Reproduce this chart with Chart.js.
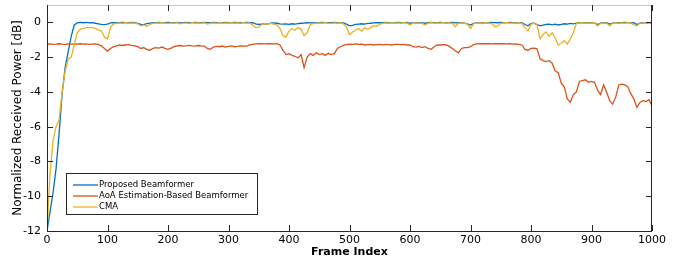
<!DOCTYPE html>
<html>
<head>
<meta charset="utf-8">
<script src="https://cdn.jsdelivr.net/npm/chart.js@4/dist/chart.umd.min.js"></script>
<style>
  html, body { margin: 0; padding: 0; background: #fff; }
</style>
</head>
<body>
<canvas id="canvas" width="682" height="261"></canvas>
<script>
// frame index every 5 frames, 0..1000
var frames = [];
for (var f = 0; f <= 1000; f += 5) frames.push(f);

var xTicks = [0, 100, 200, 300, 400, 500, 600, 700, 800, 900, 1000];
var yTicks = [-12, -10, -8, -6, -4, -2, 0];

var proposed = [
  -12, -10.9, -9.8, -8.4, -6.4, -4.1, -2.6, -1.7, -0.8, -0.15,
  -0.03, 0, -0.02, 0, -0.03, -0.02, -0.05, -0.08, -0.12, -0.13,
  -0.1, -0.03, -0.02, -0.01, -0.02, 0, -0.01, -0.02, 0, -0.01,
  -0.05, -0.12, -0.13, -0.07, -0.04, -0.02, -0.01, 0, -0.02, -0.01,
  0, -0.02, -0.01, 0, -0.03, -0.01, 0, -0.02, -0.01, 0,
  -0.02, -0.01, 0, -0.01, -0.02, 0, -0.01, -0.03, -0.01, 0,
  -0.01, -0.02, 0, -0.01, -0.02, -0.01, 0, -0.02, -0.01, -0.08,
  -0.12, -0.1, -0.08, -0.1, -0.04, -0.03, -0.05, -0.08, -0.1, -0.09,
  -0.11, -0.08, -0.1, -0.07, -0.05, -0.04, -0.02, -0.03, -0.02, -0.01,
  -0.02, 0, -0.01, -0.02, -0.01, 0, -0.02, -0.01, -0.03, -0.1,
  -0.2, -0.17, -0.12, -0.1, -0.08, -0.1, -0.06, -0.05, -0.03, -0.02,
  -0.01, -0.02, 0, -0.03, -0.02, -0.01, 0, -0.02, -0.01, 0,
  -0.05, -0.03, -0.02, -0.01, -0.03, -0.05, -0.02, 0, -0.01, -0.02,
  0, -0.01, -0.02, -0.01, 0, -0.03, -0.02, -0.01, -0.04, -0.08,
  -0.15, -0.06, -0.03, -0.02, -0.01, -0.03, -0.02, 0, -0.01, -0.02,
  0, -0.02, -0.01, 0, -0.02, -0.01, -0.03, -0.01, -0.12, -0.2,
  -0.06, -0.04, -0.12, -0.2, -0.16, -0.12, -0.1, -0.14, -0.1, -0.15,
  -0.12, -0.08, -0.1, -0.06, -0.08, -0.04, -0.02, -0.03, -0.01, -0.02,
  -0.01, -0.03, -0.13, -0.04, -0.02, -0.01, -0.1, -0.04, -0.02, -0.01,
  -0.02, 0, -0.01, -0.03, -0.02, -0.12, -0.04, -0.02, -0.01, -0.02,
  -0.02
];

var aoaBased = [
  -1.25, -1.24, -1.26, -1.25, -1.23, -1.25, -1.26, -1.24, -1.25, -1.24,
  -1.25, -1.23, -1.25, -1.24, -1.26, -1.25, -1.24, -1.28, -1.35, -1.5,
  -1.65, -1.5, -1.4, -1.35, -1.3, -1.33, -1.3, -1.28, -1.32, -1.35,
  -1.4, -1.5, -1.45, -1.55, -1.6, -1.5, -1.45, -1.48, -1.42, -1.5,
  -1.55, -1.48, -1.4, -1.35, -1.33, -1.36, -1.35, -1.32, -1.35, -1.36,
  -1.33, -1.35, -1.37, -1.5, -1.55, -1.42, -1.38, -1.4, -1.36, -1.42,
  -1.38, -1.35, -1.4, -1.38, -1.35, -1.37, -1.36, -1.3, -1.26, -1.24,
  -1.23, -1.22, -1.24, -1.23, -1.22, -1.24, -1.23, -1.3, -1.6, -1.85,
  -1.8, -1.9, -1.95, -2.05, -1.85, -2.6, -2.0, -1.8, -1.9, -1.75,
  -1.85, -1.8, -1.9, -1.78, -1.85, -1.8, -1.5, -1.4, -1.32, -1.28,
  -1.25, -1.26, -1.24, -1.27, -1.25, -1.3, -1.28, -1.26, -1.3, -1.28,
  -1.27, -1.29, -1.26, -1.28, -1.3, -1.27, -1.26, -1.28, -1.27, -1.3,
  -1.3, -1.4, -1.42, -1.38, -1.45, -1.4, -1.5, -1.55, -1.4, -1.3,
  -1.3, -1.28, -1.3, -1.38, -1.5, -1.65, -1.75, -1.5, -1.45, -1.45,
  -1.4, -1.28, -1.24, -1.23, -1.22, -1.23, -1.22, -1.24, -1.23, -1.22,
  -1.23, -1.22, -1.24, -1.23, -1.25, -1.24, -1.26, -1.3, -1.55, -1.6,
  -1.5, -1.48, -1.52, -2.1, -2.2, -2.25, -2.2, -2.35, -2.8, -2.9,
  -3.5, -3.7, -4.4, -4.6, -4.15, -4.0, -3.4, -3.35, -3.3, -3.45,
  -3.4, -3.45, -3.9, -4.15, -3.6, -4.0, -4.5, -4.7, -4.3, -3.6,
  -3.55, -3.6, -3.7, -4.1, -4.4, -4.9, -4.6, -4.5, -4.55, -4.45,
  -4.8
];

var cma = [
  -12, -8.7, -6.8, -6.0, -5.6, -4.0, -2.8, -2.1, -2.0, -1.3,
  -0.6, -0.4, -0.35, -0.3, -0.3, -0.3, -0.35, -0.45, -0.5, -0.85,
  -0.95, -0.3, -0.08, -0.05, -0.03, -0.06, -0.02, -0.04, -0.03, -0.05,
  -0.08, -0.2, -0.15, -0.22, -0.12, -0.06, -0.03, -0.05, -0.02, -0.04,
  -0.06, -0.03, -0.05, -0.02, -0.08, -0.04, -0.03, -0.06, -0.02, -0.04,
  -0.03, -0.05, -0.02, -0.1, -0.04, -0.03, -0.06, -0.02, -0.05, -0.03,
  -0.04, -0.02, -0.05, -0.03, -0.06, -0.02, -0.04, -0.03, -0.15, -0.3,
  -0.28, -0.12, -0.08, -0.1, -0.06, -0.1, -0.15, -0.35, -0.75, -0.85,
  -0.5, -0.35, -0.45, -0.3, -0.4, -0.75, -0.6, -0.15, -0.06, -0.04,
  -0.03, -0.05, -0.02, -0.04, -0.06, -0.03, -0.05, -0.02, -0.08, -0.25,
  -0.7, -0.55, -0.45, -0.35, -0.5, -0.3, -0.4, -0.3, -0.2, -0.22,
  -0.12, -0.05, -0.03, -0.06, -0.02, -0.04, -0.03, -0.05, -0.02, -0.04,
  -0.15, -0.05, -0.03, -0.04, -0.06, -0.15, -0.04, -0.02, -0.05, -0.03,
  -0.04, -0.02, -0.05, -0.03, -0.06, -0.25, -0.04, -0.03, -0.05, -0.1,
  -0.35, -0.08, -0.04, -0.03, -0.05, -0.02, -0.04, -0.06, -0.25, -0.22,
  -0.05, -0.03, -0.02, -0.04, -0.03, -0.05, -0.02, -0.06, -0.3, -0.5,
  -0.1, -0.06, -0.15, -0.95, -0.7, -0.55, -0.8, -0.6, -0.9, -1.3,
  -1.2, -1.05, -1.25, -0.95, -0.6, -0.05, -0.03, -0.02, -0.04, -0.03,
  -0.05, -0.02, -0.2, -0.06, -0.03, -0.04, -0.2, -0.05, -0.02, -0.04,
  -0.03, -0.05, -0.02, -0.04, -0.15, -0.2, -0.04, -0.03, -0.02, -0.04,
  -0.03
];

function pairs(values) {
  return values.map(function (v, i) { return { x: frames[i], y: v }; });
}

// inward tick marks and the axes box, MATLAB style
var axesBox = {
  id: 'axesBox',
  afterDatasetsDraw: function (chart) {
    var ctx = chart.ctx;
    var a = chart.chartArea;
    var xs = chart.scales.x, ys = chart.scales.y;
    ctx.save();
    ctx.lineWidth = 1;
    ctx.strokeStyle = '#c8c8c8';
    ctx.beginPath();
    ctx.moveTo(a.left, a.top + 0.5);
    ctx.lineTo(a.right, a.top + 0.5);
    ctx.stroke();
    ctx.strokeStyle = '#262626';
    ctx.beginPath();
    ctx.moveTo(a.left + 0.5, a.top);
    ctx.lineTo(a.left + 0.5, a.bottom + 0.5);
    ctx.lineTo(a.right - 0.5, a.bottom + 0.5);
    ctx.lineTo(a.right - 0.5, a.top);
    ctx.stroke();
    ctx.beginPath();
    xTicks.forEach(function (v) {
      var px = Math.round(xs.getPixelForValue(v)) + 0.5;
      ctx.moveTo(px, a.bottom);
      ctx.lineTo(px, a.bottom - 6);
      ctx.moveTo(px, a.top);
      ctx.lineTo(px, a.top + 6);
    });
    yTicks.forEach(function (v) {
      var py = Math.round(ys.getPixelForValue(v)) + 0.5;
      ctx.moveTo(a.left, py);
      ctx.lineTo(a.left + 6, py);
      ctx.moveTo(a.right, py);
      ctx.lineTo(a.right - 6, py);
    });
    ctx.stroke();
    ctx.restore();
  }
};

var legendBox = {
  id: 'legendBox',
  afterDraw: function (chart) {
    var ctx = chart.ctx;
    ctx.save();
    ctx.fillStyle = '#fff';
    ctx.fillRect(66, 173, 191, 42);
    ctx.strokeStyle = '#262626';
    ctx.lineWidth = 1;
    ctx.strokeRect(66.5, 173.5, 191, 41);
    ctx.font = '8.5px "DejaVu Sans"';
    ctx.textBaseline = 'middle';
    chart.data.datasets.forEach(function (ds, i) {
      var y = 185 + i * 11;
      ctx.strokeStyle = ds.borderColor;
      ctx.lineWidth = 1.3;
      ctx.beginPath();
      ctx.moveTo(73, y);
      ctx.lineTo(98, y);
      ctx.stroke();
      ctx.fillStyle = '#000';
      ctx.fillText(ds.label, 99, y);
    });
    ctx.restore();
  }
};

var ctx = document.getElementById('canvas').getContext('2d');
window.myLine = new Chart(ctx, {
  type: 'line',
  data: {
    datasets: [{
      label: 'Proposed Beamformer',
      data: pairs(proposed),
      borderColor: '#0072BD',
      borderWidth: 1.3,
      pointRadius: 0,
      order: 3
    }, {
      label: 'AoA Estimation-Based Beamformer',
      data: pairs(aoaBased),
      borderColor: '#D95319',
      borderWidth: 1.3,
      pointRadius: 0,
      order: 2
    }, {
      label: 'CMA',
      data: pairs(cma),
      borderColor: '#EDB120',
      borderWidth: 1.3,
      pointRadius: 0,
      order: 1
    }]
  },
  options: {
    responsive: false,
    animation: false,
    layout: { padding: { left: 0, right: 30, top: 5, bottom: 0 } },
    plugins: {
      legend: { display: false },
      tooltip: { enabled: false }
    },
    scales: {
      x: {
        type: 'linear',
        min: 0,
        max: 1000,
        afterBuildTicks: function (axis) {
          axis.ticks = xTicks.map(function (v) { return { value: v }; });
        },
        afterFit: function (axis) {
          axis.height = 30;
          axis.paddingLeft = 0;
          axis.paddingRight = 0;
        },
        grid: { display: false, drawTicks: false },
        border: { display: false },
        ticks: {
          padding: 3,
          maxRotation: 0,
          color: '#000',
          font: { family: 'DejaVu Sans', size: 11 },
          callback: function (v) { return String(v); }
        },
        title: {
          display: true,
          text: 'Frame Index',
          color: '#000',
          padding: { top: 0, bottom: 2 },
          font: { family: 'DejaVu Sans', size: 11, weight: '600' }
        }
      },
      y: {
        min: -12,
        max: 1,
        afterBuildTicks: function (axis) {
          axis.ticks = yTicks.map(function (v) { return { value: v }; });
        },
        afterFit: function (axis) {
          axis.width = 47;
          axis.paddingTop = 0;
          axis.paddingBottom = 0;
        },
        grid: { display: false, drawTicks: false },
        border: { display: false },
        ticks: {
          padding: 6,
          color: '#000',
          font: { family: 'DejaVu Sans', size: 11 },
          callback: function (v) { return String(v); }
        },
        title: {
          display: true,
          text: 'Normalized Received Power [dB]',
          color: '#000',
          padding: { top: 11, bottom: 0 },
          font: { family: 'DejaVu Sans', size: 12 }
        }
      }
    }
  },
  plugins: [axesBox, legendBox]
});
</script>
</body>
</html>
